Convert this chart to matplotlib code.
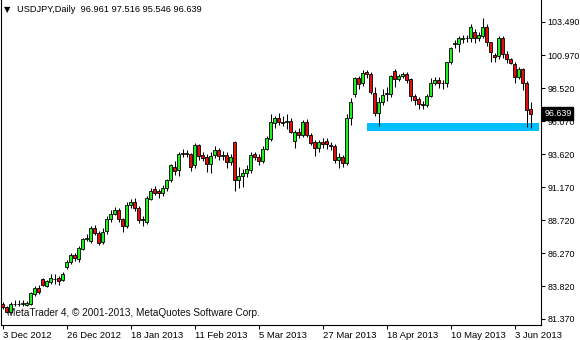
import matplotlib
matplotlib.use('Agg')
import matplotlib.pyplot as plt
import numpy as np

plt.rcParams['font.family'] = ['Liberation Sans', 'DejaVu Sans']

# USDJPY daily candles, 3 Dec 2012 .. 7 Jun 2013
opens = [82.45, 82.26, 81.90, 82.45, 82.50, 82.45, 82.38, 82.50, 83.25, 83.70,
         84.35, 83.85, 84.10, 84.35, 84.40, 84.30, 85.25, 85.60, 86.15, 85.80,
         86.60, 87.35, 87.20, 88.10, 87.75, 87.10, 87.90, 88.80, 89.20, 89.45,
         88.80, 88.30, 89.85, 90.10, 89.60, 88.80, 88.60, 90.30, 91.00, 90.85,
         90.75, 91.10, 91.70, 92.70, 92.45, 93.65, 93.68, 93.65, 92.80, 94.30,
         93.55, 93.40, 92.90, 93.55, 93.90, 93.50, 93.55, 93.05, 94.50, 91.70,
         92.00, 92.20, 92.45, 93.65, 93.45, 93.15, 94.00, 94.75, 95.95, 96.30,
         96.05, 96.05, 96.10, 94.60, 95.30, 95.05, 96.00, 95.05, 94.50, 94.05,
         94.55, 94.60, 94.30, 94.25, 93.20, 93.40, 92.95, 96.30, 98.10, 99.30,
         98.90, 99.70, 99.60, 98.15, 96.70, 97.50, 98.10, 98.10, 99.80, 99.20,
         99.45, 99.55, 99.20, 97.95, 97.70, 97.35, 97.30, 97.95, 98.95, 99.15,
         98.90, 98.95, 100.45, 101.80, 101.80, 102.20, 102.25, 102.25, 102.70, 102.25,
         102.40, 103.10, 101.95, 101.00, 100.90, 102.30, 101.10, 100.70, 100.30, 99.35,
         99.95, 98.90, 96.961]
highs = [82.60, 82.35, 82.60, 82.75, 82.80, 82.75, 82.70, 83.40, 83.80, 83.90,
         84.40, 84.30, 84.70, 84.70, 84.60, 84.85, 85.75, 86.25, 86.30, 86.80,
         87.40, 87.70, 88.30, 88.35, 87.90, 88.10, 89.00, 89.50, 89.70, 89.60,
         88.90, 90.10, 90.30, 90.35, 89.80, 89.00, 90.50, 91.10, 91.25, 91.00,
         91.30, 91.80, 92.90, 93.10, 93.75, 94.00, 93.95, 93.70, 94.45, 94.40,
         93.80, 93.60, 93.75, 94.20, 94.10, 93.85, 93.80, 93.60, 94.60, 92.70,
         92.50, 92.80, 93.75, 93.80, 93.60, 94.20, 95.00, 96.60, 96.45, 96.70,
         96.50, 96.60, 96.30, 95.40, 95.60, 96.20, 96.25, 95.20, 94.70, 94.70,
         94.80, 94.80, 94.50, 94.40, 93.70, 93.55, 96.60, 97.80, 99.35, 99.45,
         99.85, 99.90, 99.75, 98.60, 97.90, 98.50, 98.60, 99.50, 99.95, 99.60,
         99.70, 99.70, 99.30, 98.10, 97.85, 97.60, 98.10, 99.30, 99.35, 99.35,
         99.15, 100.50, 101.60, 102.10, 102.40, 102.50, 102.50, 103.30, 102.95, 102.70,
         103.75, 103.30, 102.00, 101.15, 102.40, 102.40, 101.30, 100.75, 100.45, 100.10,
         100.00, 99.05, 97.516]
lows = [82.10, 81.80, 81.80, 82.30, 82.30, 82.30, 82.30, 82.40, 83.10, 83.25,
        83.80, 83.75, 84.00, 84.00, 83.90, 84.20, 85.10, 85.45, 85.70, 85.60,
        86.50, 87.20, 87.00, 87.60, 86.90, 86.95, 87.70, 88.60, 89.10, 88.60,
        87.85, 88.10, 89.60, 89.40, 88.50, 88.30, 88.40, 90.20, 90.60, 90.40,
        90.50, 90.90, 91.55, 92.10, 92.00, 93.40, 93.40, 92.35, 92.60, 93.20,
        93.10, 92.30, 92.20, 93.35, 93.20, 93.20, 92.60, 92.80, 90.90, 91.10,
        91.20, 91.90, 92.20, 93.20, 92.80, 93.00, 93.90, 94.60, 95.60, 95.80,
        95.70, 95.50, 95.20, 94.10, 94.80, 94.90, 94.90, 94.30, 93.50, 93.80,
        94.10, 94.00, 93.90, 93.00, 92.60, 92.65, 92.80, 95.80, 97.90, 98.50,
        98.70, 99.30, 98.10, 96.50, 95.70, 97.30, 97.60, 97.90, 98.60, 99.10,
        99.30, 98.95, 97.60, 97.30, 97.00, 97.00, 97.10, 97.85, 98.80, 98.55,
        98.50, 98.60, 100.30, 101.55, 101.20, 101.90, 101.95, 101.95, 101.90, 102.05,
        102.30, 101.70, 100.45, 100.50, 100.70, 100.80, 100.40, 100.30, 98.90, 99.20,
        98.40, 95.65, 95.546]
closes = [82.25, 81.89, 82.48, 82.50, 82.48, 82.55, 82.55, 83.30, 83.65, 83.40,
          83.90, 84.20, 84.40, 84.33, 84.20, 84.75, 85.60, 86.10, 85.90, 86.65,
          87.35, 87.38, 88.10, 87.75, 87.00, 87.80, 88.80, 89.15, 89.45, 88.80,
          88.30, 89.85, 90.10, 89.60, 88.75, 88.70, 90.35, 90.85, 90.75, 90.70,
          91.10, 91.70, 92.80, 92.35, 93.65, 93.68, 93.65, 92.70, 94.30, 93.50,
          93.35, 92.90, 93.50, 93.90, 93.50, 93.55, 93.05, 93.40, 91.70, 92.00,
          92.20, 92.50, 93.55, 93.40, 93.15, 94.00, 94.80, 96.00, 96.30, 96.00,
          95.95, 96.10, 95.30, 95.30, 95.05, 96.00, 95.05, 94.45, 94.05, 94.50,
          94.40, 94.35, 94.25, 93.20, 93.40, 92.95, 96.30, 97.50, 99.30, 98.85,
          99.65, 99.55, 98.25, 96.70, 97.50, 98.05, 98.15, 99.45, 99.20, 99.45,
          99.55, 99.15, 97.95, 97.65, 97.35, 97.25, 97.95, 98.90, 99.15, 98.90,
          98.95, 100.45, 101.55, 101.90, 102.30, 102.30, 102.30, 103.10, 102.25, 102.50,
          103.10, 101.95, 101.20, 100.85, 102.30, 101.10, 100.70, 100.40, 99.35, 99.95,
          98.90, 96.90, 96.639]

date_labels = ['3 Dec 2012', '26 Dec 2012', '18 Jan 2013', '11 Feb 2013', '5 Mar 2013',
               '27 Mar 2013', '18 Apr 2013', '10 May 2013', '3 Jun 2013']
date_step = 16
price_ticks = [81.37, 83.82, 86.27, 88.72, 91.17, 93.62, 96.07, 98.52, 100.97, 103.49]

# support zone drawn by hand in the terminal
zone_bars = (91.0, 134.1)
zone_prices = (95.37, 95.97)

o = np.array(opens)
h = np.array(highs)
l = np.array(lows)
c = np.array(closes)
x = np.arange(len(c))

fig = plt.figure(figsize=(5.8, 3.4), dpi=100)
ax = fig.add_axes([1 / 580, 15 / 340, 540 / 580, 325 / 340])

ax.fill_between(zone_bars, zone_prices[0], zone_prices[1], color='#00bfff', lw=0, zorder=1)

ax.vlines(x, l, h, color='black', lw=0.75, zorder=2)
up = c >= o
body_bottom = np.minimum(o, c)
body_h = np.maximum(np.abs(c - o), 0.02)
ax.bar(x, body_h, bottom=body_bottom, width=0.62,
       color=np.where(up, '#22ee22', '#e01010'), edgecolor='black', lw=0.6, zorder=3)

ax.set_xlim(-0.425, 134.575)
ax.set_ylim(80.92, 105.09)

for s in ['left', 'right', 'bottom']:
    ax.spines[s].set_linewidth(0.8)
ax.spines['top'].set_visible(False)

ax.yaxis.tick_right()
ax.set_yticks(price_ticks)
ax.set_yticklabels(['%.3f' % p for p in price_ticks])
ax.tick_params(axis='y', direction='out', length=3, width=0.75, pad=1.8, labelsize=6.4)

ax.set_xticks(np.arange(len(date_labels)) * date_step)
ax.set_xticklabels(date_labels)
ax.tick_params(axis='x', direction='out', length=3, width=0.75, pad=1.5, labelsize=6.8)
plt.setp(ax.get_xticklabels(), ha='left')

# last price tag on the price scale
ax.annotate('%.3f' % closes[-1], xy=(1, closes[-1]), xycoords=('axes fraction', 'data'),
            xytext=(2.3, 0), textcoords='offset points', ha='left', va='center',
            fontsize=6.4, color='white', zorder=10, annotation_clip=False,
            bbox=dict(boxstyle='square,pad=0.2', fc='black', ec='black'))

fig.text(4 / 580, 1 - 10 / 340, '\u25bc', fontsize=6, va='center', ha='left',
         family=['DejaVu Sans'])
fig.text(17 / 580, 1 - 10 / 340,
         '%s  %.3f %.3f %.3f %.3f' % ('USDJPY,Daily', opens[-1], highs[-1], lows[-1], closes[-1]),
         fontsize=6.7, va='center', ha='left')
fig.text(7 / 580, 1 - 313 / 340, 'MetaTrader 4, \u00a9 2001-2013, MetaQuotes Software Corp.',
         fontsize=7.2, va='center', ha='left', color='#111111')

fig.savefig('out.png', dpi=100, facecolor='white')
